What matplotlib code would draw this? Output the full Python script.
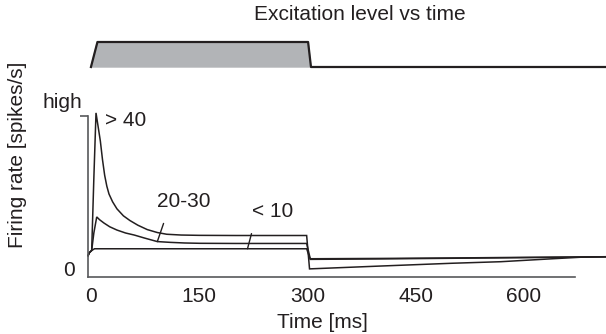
import matplotlib
matplotlib.use('agg')
import matplotlib.pyplot as plt

plt.rcParams['font.family'] = ['Liberation Sans', 'DejaVu Sans']

# stimulus (excitation level): 0 = off, 1 = on
pulso_t = [0, 9, 301, 305, 715]
pulso_y = [0, 1, 1, 0, 0]

# firing rate, relative units (0 = zero, 1 = "high"), time in ms
t_alto = [-4, -2, 1, 4, 7, 10, 13, 16, 19, 22, 25, 30, 36, 45, 54, 65, 78, 92,
          105, 125, 150, 200, 299, 303, 400, 500, 568, 640, 680, 715]
taxa_alto = [0.105, 0.125, 0.138, 0.6, 1.02, 0.93, 0.84, 0.72, 0.62, 0.55, 0.50,
             0.45, 0.405, 0.36, 0.33, 0.30, 0.272, 0.253, 0.242, 0.237, 0.235,
             0.234, 0.234, 0.02, 0.038, 0.056, 0.066, 0.085, 0.095, 0.098]

t_medio = [-4, -2, 1, 4, 8, 12, 18, 26, 36, 48, 60, 74, 92, 110, 130, 151, 200,
           299, 304, 400, 500, 600, 715]
taxa_medio = [0.105, 0.125, 0.138, 0.25, 0.353, 0.335, 0.314, 0.29, 0.269, 0.25,
              0.237, 0.218, 0.195, 0.19, 0.186, 0.184, 0.183, 0.183, 0.085,
              0.087, 0.09, 0.094, 0.098]

t_baixo = [-4, -2, 1, 5, 10, 150, 299, 304, 400, 500, 600, 715]
taxa_baixo = [0.105, 0.125, 0.138, 0.149, 0.149, 0.149, 0.149, 0.081, 0.084,
              0.088, 0.092, 0.097]

rotulos = ['> 40', '20-30', '< 10']
x_ticks = [0, 150, 300, 450, 600]

cor = '#231f20'
cinza_eixo = '#58595b'
W, H = 606, 334

fig = plt.figure(figsize=(W / 100, H / 100), dpi=100)

# main panel
ax = fig.add_axes([88 / W, 1 - 277 / H, (575 - 88) / W, (277 - 116) / H])
ax.set_xlim(-4.1, 671)
ax.set_ylim(-0.032, 1.0)

for t, y in [(t_alto, taxa_alto), (t_medio, taxa_medio), (t_baixo, taxa_baixo)]:
    ax.plot(t, y, color=cor, lw=1.1, clip_on=False, solid_joinstyle='miter')

for s in ['top', 'right']:
    ax.spines[s].set_visible(False)
for s in ['left', 'bottom']:
    ax.spines[s].set_color(cinza_eixo)
    ax.spines[s].set_linewidth(1.2)

ax.set_xticks(x_ticks)
ax.set_xticklabels([str(v) for v in x_ticks])
ax.tick_params(axis='x', length=0, pad=7, labelsize=15, labelcolor=cor)
ax.set_yticks([1])
ax.set_yticklabels([''])
ax.tick_params(axis='y', length=6, width=1.2, color=cinza_eixo)

ax.text(19.4, 0.974, rotulos[0], ha='left', va='center', fontsize=15, color=cor)
ax.annotate(rotulos[1], xy=(t_medio[12], taxa_medio[12]), xytext=(128.6, 0.449),
            ha='center', va='center', fontsize=15, color=cor,
            arrowprops=dict(arrowstyle='-', color=cor, lw=1.0, relpos=(0.2, 0),
                            shrinkA=7, shrinkB=0))
ax.annotate(rotulos[2], xy=(217, taxa_baixo[5]), xytext=(251.6, 0.385),
            ha='center', va='center', fontsize=15, color=cor,
            arrowprops=dict(arrowstyle='-', color=cor, lw=1.0, relpos=(0.07, 0),
                            shrinkA=7, shrinkB=0))

fig.text(82 / W, 1 - 102 / H, 'high', ha='right', va='center', fontsize=15, color=cor)
fig.text(75 / W, 1 - 271 / H, '0', ha='right', va='center', fontsize=15, color=cor)
fig.text(18 / W, 1 - 155 / H, 'Firing rate [spikes/s]', rotation=90,
         ha='center', va='center', fontsize=15, color=cor)
fig.text(322 / W, 1 - 322 / H, 'Time [ms]', ha='center', va='center',
         fontsize=15, color=cor)

# stimulus panel
ax2 = fig.add_axes([88 / W, 1 - 67 / H, (575 - 88) / W, 25 / H])
ax2.set_xlim(-4.1, 671)
ax2.set_ylim(0, 1)
ax2.axis('off')
ax2.fill(pulso_t[:4], pulso_y[:4], color='#b2b4b7', clip_on=False)
ax2.plot(pulso_t, pulso_y, color=cor, lw=1.6, clip_on=False)
fig.text(360 / W, 1 - 15 / H, 'Excitation level vs time', ha='center', va='center',
         fontsize=15, color=cor)

plt.savefig('out.png', dpi=100)
plt.close('all')
